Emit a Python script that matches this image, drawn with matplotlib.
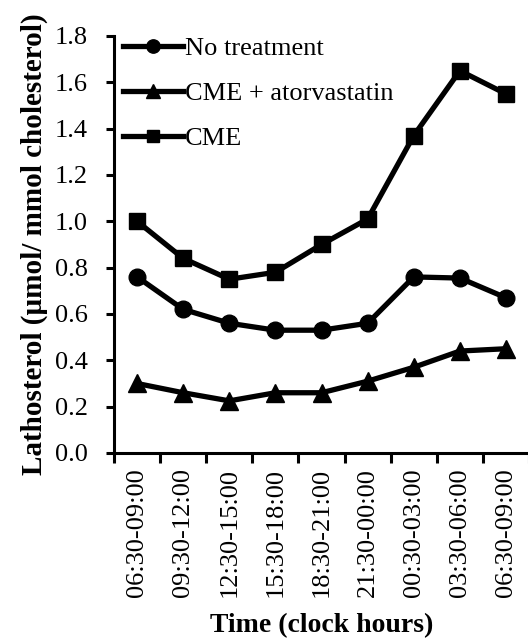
import numpy as np
import matplotlib
matplotlib.use('Agg')
import matplotlib.pyplot as plt
from matplotlib.ticker import FixedLocator

# Data
times = ['06:30-09:00', '09:30-12:00', '12:30-15:00', '15:30-18:00', '18:30-21:00',
         '21:30-00:00', '00:30-03:00', '03:30-06:00', '06:30-09:00']
no_treatment = [0.76, 0.62, 0.56, 0.53, 0.53, 0.56, 0.76, 0.755, 0.67]
cme_atorvastatin = [0.30, 0.26, 0.225, 0.26, 0.26, 0.31, 0.37, 0.44, 0.45]
cme = [1.00, 0.84, 0.75, 0.78, 0.90, 1.01, 1.37, 1.65, 1.55]
yticks = [0.0, 0.2, 0.4, 0.6, 0.8, 1.0, 1.2, 1.4, 1.6, 1.8]

plt.rcParams['font.family'] = ['Liberation Serif', 'DejaVu Serif']

fig = plt.figure(figsize=(5.28, 6.38), dpi=100)
ax = fig.add_axes([0.216, 0.29, 0.786, 0.6536])

x = np.arange(len(times))
ax.plot(x, no_treatment, color='black', lw=3.8, marker='o', ms=12, label='No treatment')
ax.plot(x, cme_atorvastatin, color='black', lw=3.8, marker='^', ms=13, label='CME + atorvastatin')
ax.plot(x, cme, color='black', lw=3.8, marker='s', ms=11.5, label='CME')

ax.set_xlim(-0.5, len(times) - 0.5)
ax.set_ylim(0, 1.8)
ax.set_yticks(yticks)
ax.set_yticklabels([f'{v:.1f}' for v in yticks], fontsize=19)

ax.set_xticks(x)
ax.set_xticklabels(times, rotation=90, fontsize=19)
ax.tick_params(axis='x', which='major', length=0, pad=11)
ax.xaxis.set_minor_locator(FixedLocator(np.arange(-0.5, len(times), 1.0)))
ax.tick_params(axis='x', which='minor', length=7, width=2.2, direction='out')
ax.tick_params(axis='y', length=6, width=2.2, direction='out', pad=13)

for s in ['top', 'right']:
    ax.spines[s].set_visible(False)
for s in ['left', 'bottom']:
    ax.spines[s].set_linewidth(2.2)

ax.set_ylabel('Lathosterol (µmol/ mmol cholesterol)', fontsize=21, fontweight='bold', labelpad=5)
ax.set_xlabel('Time (clock hours)', fontsize=20, fontweight='bold', labelpad=11)

ax.legend(loc='upper left', frameon=False, fontsize=19, handlelength=2.25,
          handletextpad=0.1, labelspacing=0.81, markerscale=0.8,
          borderpad=0, borderaxespad=0, bbox_to_anchor=(0.022, 0.998))

fig.savefig('out.png', dpi=100)
